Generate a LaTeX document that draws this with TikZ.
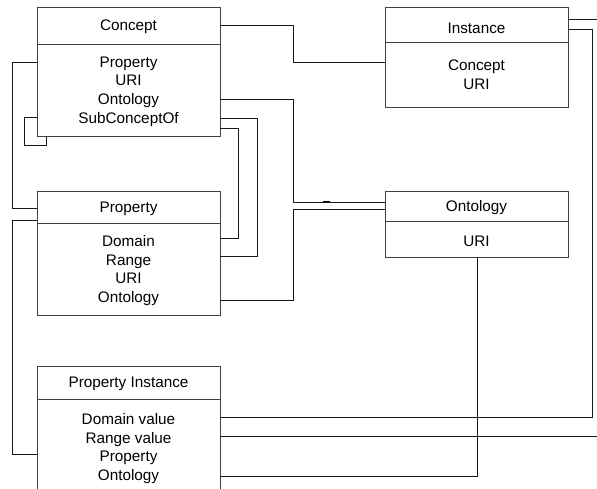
\documentclass[tikz,border=0pt]{standalone}
\usepackage{fontspec}
\setmainfont{Liberation Sans}
\newcommand{\boxfont}{\fontsize{15.3}{18.7}\selectfont}
\begin{document}
\begin{tikzpicture}[x=1pt,y=-1pt,
  umlbox/.style={draw=black!75, line width=0.8pt, minimum width=183pt, inner sep=0pt, outer sep=0pt,
    anchor=north west, align=center, font=\boxfont, text depth=0pt},
  link/.style={draw=black!90, line width=0.8pt}]
\clip (0,0) rectangle (597,489);
\fill[white] (0,0) rectangle (597,489);
% boxes
\node[umlbox, minimum height=37pt] (conceptH) at (37,7) {Concept};
\node[umlbox, minimum height=92pt] (conceptB) at (37,44) {Property\\URI\\Ontology\\SubConceptOf};
\node[umlbox, minimum height=35pt, text height=19pt] (instH) at (385,7) {Instance};
\node[umlbox, minimum height=65pt] (instB) at (385,42) {Concept\\URI};
\node[umlbox, minimum height=30pt] (ontoH) at (385,191) {Ontology};
\node[umlbox, minimum height=36pt, text height=16pt] (ontoB) at (385,221) {URI};
\node[umlbox, minimum height=32pt] (propH) at (37,191) {Property};
\node[umlbox, minimum height=92pt] (propB) at (37,223) {Domain\\Range\\URI\\Ontology};
\node[umlbox, minimum height=33pt] (piH) at (37,366) {Property Instance};
\node[umlbox, minimum height=96pt] (piB) at (37,399) {Domain value\\Range value\\Property\\Ontology};
\coordinate (rightA) at (597,19);
\coordinate (rightB) at (597,436);
% connectors
\draw[link] (conceptH.east) -- (293,25.5) |- (instB.west |- 0,62);
\draw[link] (conceptB.east |- 0,99) -- (293,99) |- (ontoH.west |- 0,202);
\draw[link] (propB.east |- 0,300) -- (293,300) |- (ontoH.west |- 0,209);
\draw[link] (conceptB.east |- 0,118) -- (257,118) |- (propB.east |- 0,256);
\draw[link] (conceptB.east |- 0,128) -- (238,128) |- (propB.east |- 0,238);
\draw[link] (conceptB.west |- 0,117) -- (24,117) -- (24,145) -| (conceptB.south -| 46,0);
\draw[link] (conceptB.west |- 0,62) -- (12,62) |- (propH.west |- 0,208);
\draw[link] (propH.west |- 0,220) -- (12,220) |- (piB.west |- 0,454);
\draw[link] (instH.east |- 0,19) -- (rightA);
\draw[link] (instH.east |- 0,29) -- (592,29) |- (piB.east |- 0,417);
\draw[link] (piB.east |- 0,436) -- (rightB);
\draw[link] (ontoB.south -| 477,0) |- (piB.east |- 0,476);
\draw[black, line width=1.6pt] (323,201.5) -- (330,201.5);
\end{tikzpicture}
\end{document}
